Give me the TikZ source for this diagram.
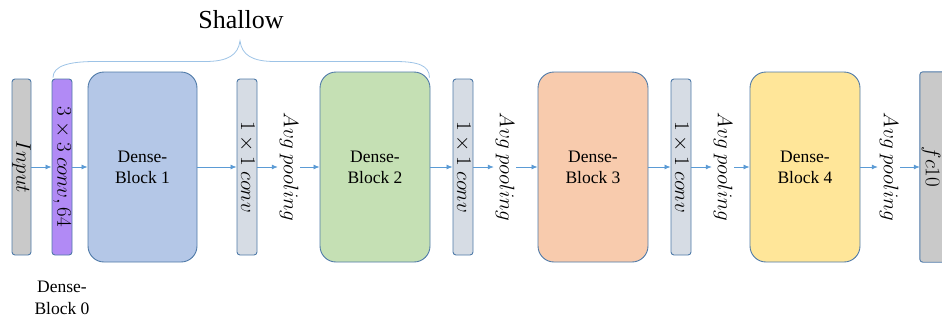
\RequirePackage{fix-cm}
\documentclass[tikz,border=0pt]{standalone}
\usepackage[no-math]{fontspec}
\setmainfont{Liberation Serif}
\usetikzlibrary{arrows.meta,backgrounds}

\definecolor{edge}{HTML}{4F7AA8}
\definecolor{flow}{HTML}{5B9BD5}
\definecolor{brace}{HTML}{9DC3E6}
\definecolor{grayfill}{HTML}{C9C9C9}
\definecolor{convfill}{HTML}{B18AF5}
\definecolor{transfill}{HTML}{D6DCE4}
\definecolor{dbA}{HTML}{B4C7E7}
\definecolor{dbB}{HTML}{C5E0B4}
\definecolor{dbC}{HTML}{F8CBAD}
\definecolor{dbD}{HTML}{FFE699}

\newcommand{\vtext}[1]{\rotatebox[origin=c]{-90}{\fontsize{21}{24}\selectfont #1}}

\begin{document}
\begin{tikzpicture}[x=1pt,y=-1pt,
  thinbox/.style={draw=edge,line width=0.9pt,rounded corners=3pt,
    minimum width=20pt,minimum height=176pt,inner sep=0pt},
  blockbox/.style={draw=edge,line width=0.9pt,rounded corners=16pt,
    minimum width=110pt,minimum height=190pt,inner sep=0pt,align=center,
    font=\fontsize{17.5}{21}\selectfont},
  vlabel/.style={inner sep=0pt,minimum width=22pt},
  flowarrow/.style={draw=flow,line width=0.8pt,-{Latex[length=6pt,width=5pt]}}]

\useasboundingbox (0,0) rectangle (942,322);
\clip (0,0) rectangle (942,322);

% layers from left to right
\node[thinbox,fill=grayfill,minimum width=19pt] (inp) at (21.5,167) {\vtext{$Input$}};
\node[thinbox,fill=convfill] (c0) at (62,167) {\vtext{$3\times 3\ conv,64$}};
\node[blockbox,fill=dbA,minimum width=109pt] (db1) at (142.5,167) {Dense-\\Block 1};
\node[thinbox,fill=transfill] (t1) at (247,167) {\vtext{$1\times 1\ conv$}};
\node[vlabel] (ap1) at (289,167) {\vtext{$Avg\ pooling$}};
\node[blockbox,fill=dbB] (db2) at (375,167) {Dense-\\Block 2};
\node[thinbox,fill=transfill] (t2) at (463,167) {\vtext{$1\times 1\ conv$}};
\node[vlabel] (ap2) at (505,167) {\vtext{$Avg\ pooling$}};
\node[blockbox,fill=dbC] (db3) at (593,167) {Dense-\\Block 3};
\node[thinbox,fill=transfill] (t3) at (681,167) {\vtext{$1\times 1\ conv$}};
\node[vlabel] (ap3) at (723,167) {\vtext{$Avg\ pooling$}};
\node[blockbox,fill=dbD] (db4) at (805,167) {Dense-\\Block 4};
\node[vlabel] (ap4) at (889,167) {\vtext{$Avg\ pooling$}};

% output layer: its box runs on past the right edge
\node[inner sep=0pt,minimum width=22pt,minimum height=190pt] (fc) at (931,167) {\vtext{$fc10$}};
\begin{scope}[on background layer]
  \draw[draw=edge,fill=grayfill,line width=0.9pt,rounded corners=3pt]
    (fc.north west) rectangle ([xshift=20pt]fc.south east);
\end{scope}

% caption under the first convolution
\node[align=center,font=\fontsize{17.5}{22}\selectfont] (db0) at (62,298) {Dense-\\Block 0};

% data flow
\foreach \a/\b in {inp/c0,c0/db1,db1/t1,t1/ap1,ap1/db2,db2/t2,t2/ap2,ap2/db3,
                   db3/t3,t3/ap3,ap3/db4,db4/ap4,ap4/fc}
  \draw[flowarrow] (\a.east) -- (\b.west);

% brace over the shallow part
\coordinate (bl) at ([xshift=-9pt,yshift=1pt]c0.north);
\coordinate (br) at ([xshift=-1pt,yshift=-6pt]db2.north east);
\coordinate (tip) at (240,41);
\draw[brace,line width=0.8pt]
  (bl) .. controls ([yshift=12pt]bl) and (70,61.5) .. (95,61.5)
  -- (205,61.5) .. controls (228,61.5) and (238,55) .. (tip)
  .. controls (242,55) and (252,61.5) .. (275,61.5)
  -- (395,61.5) .. controls (418,61.5) and ([yshift=12pt]br) .. (br);
\node[font=\fontsize{26}{30}\selectfont] (shallow) at (241,20) {Shallow};
\end{tikzpicture}
\end{document}
